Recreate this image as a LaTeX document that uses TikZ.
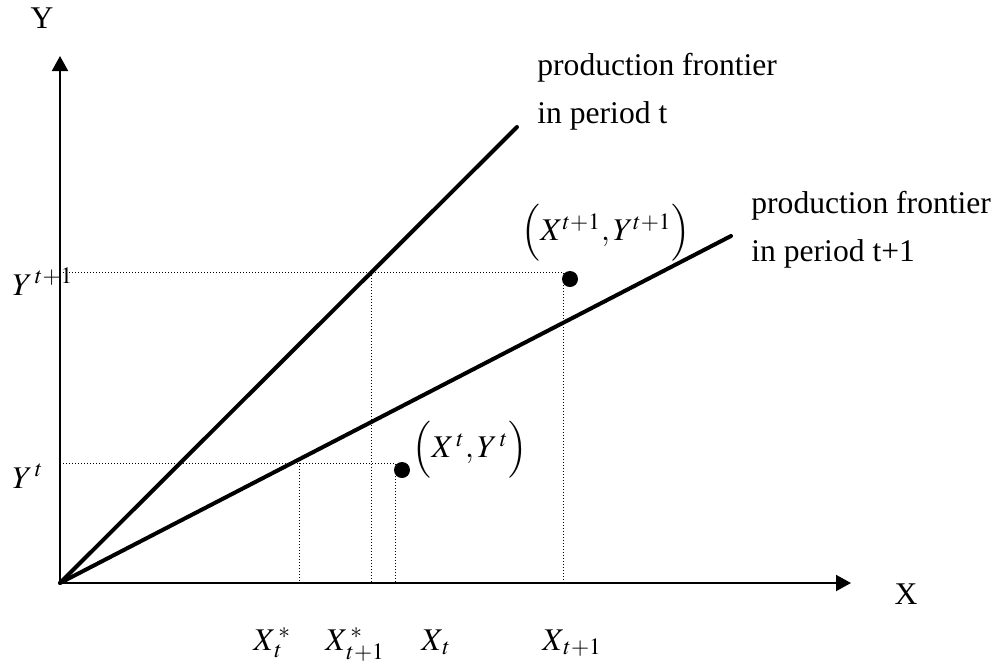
\documentclass[tikz,border=0pt]{standalone}
\usepackage{amsmath}
\usepackage{mathptmx}
\usepackage[no-math]{fontspec}
\setmainfont{Liberation Serif}
\usetikzlibrary{arrows.meta,positioning}
\tikzset{
    frontier diagram/.style = {x=0.5pt, y=-0.5pt,
                               font=\fontsize{15.8}{24}\selectfont,
                               >={Triangle[length=7.5pt, width=8pt]}},
    axis/.style             = {line width=1pt},
    frontier/.style         = {line width=2pt, line cap=round},
    guide/.style            = {line width=0.5pt,
                               dash pattern=on 0.5pt off 1pt},
    obs/.style              = {circle, fill, inner sep=0pt,
                               minimum size=8pt},
    lbl/.style              = {inner sep=0pt},
    note/.style             = {lbl, align=left, anchor=north west}
}

\begin{document}
\begin{tikzpicture}[frontier diagram]
\useasboundingbox (0,0) rectangle (998,666);

% ================= Axes =================
\coordinate (O)    at (60,583);
\coordinate (ytip) at (60,56);
\coordinate (xtip) at (851,583);
\draw[->, axis] (O) -- (ytip);
\draw[->, axis] (O) -- (xtip);
\node[lbl] (ylab) at (42,18)  {Y};
\node[lbl] (xlab) at (906,594) {X};

% ================= Production frontiers =================
\coordinate (Ft)  at (517,127);
\coordinate (Ft1) at (731,236);
\draw[frontier] (O) -- (Ft);
\draw[frontier] (O) -- (Ft1);
\node[note] (ftlab)  at (537,53)
    {production frontier\\in period t};
\node[note] (ft1lab) at (751,191)
    {production frontier\\in period t+1};

% ================= Guide lines, period t+1 =================
\coordinate (Yt1) at (60,272);
\coordinate (Kt1) at (371,272);   % on frontier t
\coordinate (At1) at (563,272);
\coordinate (Bt1) at (563,583);
\coordinate (Ks1) at (371,583);
\draw[guide] (Yt1) -- (At1) -- (Bt1);
\draw[guide] (Kt1) -- (Ks1);

% ================= Guide lines, period t =================
\coordinate (Yt)  at (60,463);
\coordinate (Kt)  at (299,463);   % on frontier t+1
\coordinate (At)  at (395,463);
\coordinate (Bt)  at (395,583);
\coordinate (Ks)  at (299,583);
\draw[guide] (Yt) -- (At) -- (Bt);
\draw[guide] (Kt) -- (Ks);

% ================= Observations =================
\node[obs] (P1) at (570,279) {};
\node[obs] (P0) at (402,470) {};
\node[lbl] (P1lab) at (606,233)
    {$\Bigl(X^{t+1},Y^{t+1}\Bigr)$};
\node[lbl] (P0lab) at (470,450)
    {$\Bigl(X^{\,t},Y^{\,t}\Bigr)$};

% ================= Axis labels =================
\node[lbl, anchor=base west] (Yt1lab) at (12,295) {$Y^{\,t+1}$};
\node[lbl, anchor=base west] (Ytlab)  at (12,488) {$Y^{\,t}$};
\node[lbl, anchor=base west] (Xslab)  at (253,650) {$X_{\,t}^{\,*}$};
\node[lbl, anchor=base west] (Xs1lab) at (325,650) {$X_{\,t+1}^{\,*}$};
\node[lbl, anchor=base west] (Xtlab)  at (421,650) {$X_{\,t}$};
\node[lbl, anchor=base west] (Xt1lab) at (542,650) {$X_{\,t+1}$};

\end{tikzpicture}
\end{document}
